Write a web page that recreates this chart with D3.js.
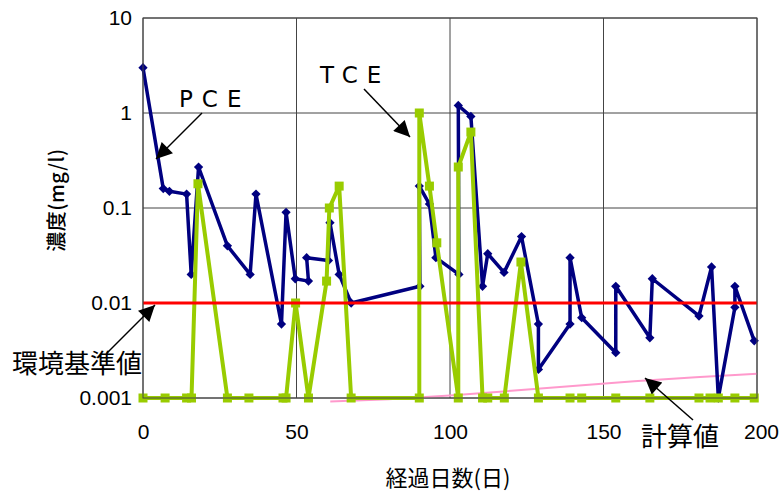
<!DOCTYPE html>
<html><head><meta charset="utf-8">
<script src="https://cdn.jsdelivr.net/npm/d3@7"></script>
<style>
html,body{margin:0;padding:0;background:#fff;}
svg{display:block;}
</style></head>
<body>
<svg id="c" width="779" height="493"></svg>
<script>
// ---- data ----
const xTicks = [0, 50, 100, 150, 200];
const yTicks = [0.001, 0.01, 0.1, 1, 10];
const yTickLabels = ["0.001", "0.01", "0.1", "1", "10"];

const pceDays   = [0, 6.6, 8.6, 14.2, 15.7, 18.1, 27.5, 34.9, 36.8, 45.1, 46.6, 49.6, 53.9, 53.3, 60.4, 60.9, 63.9, 67.8, 90.2, 90, 93.3, 95.4, 102.9, 102.7, 106.8, 110.6, 112.3, 117.6, 123.3, 128.8, 128.8, 139.1, 139.1, 142.9, 154, 154, 165.1, 165.9, 181.1, 185.2, 187.4, 192.8, 192.8, 199.1];
const pceValues = [3.0, 0.16, 0.15, 0.14, 0.02, 0.27, 0.04, 0.02, 0.14, 0.006, 0.09, 0.018, 0.017, 0.03, 0.028, 0.07, 0.02, 0.01, 0.015, 0.17, 0.11, 0.03, 0.02, 1.2, 0.92, 0.015, 0.033, 0.021, 0.05, 0.006, 0.002, 0.006, 0.03, 0.007, 0.003, 0.015, 0.0043, 0.018, 0.0073, 0.024, 0.001, 0.009, 0.015, 0.004];

const tceDays   = [0, 7.2, 14.2, 15.8, 17.9, 27.5, 34.5, 45.6, 46.6, 49.7, 53.9, 59.8, 60.7, 63.9, 67.8, 90, 90, 93.3, 95.7, 102.7, 102.7, 106.8, 110.6, 112.3, 117.7, 123.1, 128.8, 139.1, 142.9, 154, 165.1, 181.1, 184.7, 187.4, 192.8, 199.1];
const tceValues = [0.001, 0.001, 0.001, 0.001, 0.18, 0.001, 0.001, 0.001, 0.001, 0.01, 0.001, 0.017, 0.1, 0.17, 0.001, 0.001, 1.0, 0.17, 0.043, 0.001, 0.27, 0.63, 0.001, 0.001, 0.001, 0.027, 0.001, 0.001, 0.001, 0.001, 0.001, 0.001, 0.001, 0.001, 0.001, 0.001];

const stdDays   = [0, 200];
const stdValues = [0.01, 0.01];

const calcDays   = [61, 80, 100, 120, 140, 160, 180, 200];
const calcValues = [0.00092, 0.00097, 0.00106, 0.00119, 0.00134, 0.0015, 0.00165, 0.0018];

// ---- layout ----
const L = 143, R = 757, T = 18, B = 398;
const svg = d3.select("#c");
const x = d3.scaleLinear().domain([0, 200]).range([L, R]);
const y = d3.scaleLog().domain([0.001, 10]).range([B, T]);

const numFont = "'Liberation Sans', Arial, sans-serif";
const cjkFont = "'Noto Sans CJK JP', sans-serif";

// grid
const g = svg.append("g");
g.selectAll("line.h").data(yTicks).join("line")
  .attr("x1", L).attr("x2", R).attr("y1", d => y(d)).attr("y2", d => y(d))
  .attr("stroke", "#444").attr("stroke-width", 1);
g.selectAll("line.v").data(xTicks).join("line")
  .attr("y1", T).attr("y2", B).attr("x1", d => x(d)).attr("x2", d => x(d))
  .attr("stroke", "#444").attr("stroke-width", 1);

// axes (labels only)
const yAxis = d3.axisLeft(y).tickValues(yTicks).tickFormat((d, i) => yTickLabels[i]).tickSize(0).tickPadding(11);
const ya = svg.append("g").attr("transform", `translate(${L},0)`).call(yAxis);
ya.select(".domain").remove();
ya.selectAll("text").attr("font-family", numFont).attr("font-size", 21).attr("fill", "#000");

const xAxis = d3.axisBottom(x).tickValues(xTicks).tickFormat(d3.format("d")).tickSize(0).tickPadding(26);
const xa = svg.append("g").attr("transform", `translate(0,${B})`).call(xAxis);
xa.select(".domain").remove();
xa.selectAll("text").attr("font-family", numFont).attr("font-size", 21).attr("fill", "#000");
xa.selectAll(".tick").filter(d => d === 200).select("text").attr("dx", 4);

// series
const line = d3.line().x(d => x(d[0])).y(d => y(d[1]));
const zip = (a, b) => a.map((v, i) => [v, b[i]]);

const calc = zip(calcDays, calcValues);
svg.append("path").attr("d", line(calc)).attr("fill", "none").attr("stroke", "#FF99CC").attr("stroke-width", 2);

const pce = zip(pceDays, pceValues);
svg.append("path").attr("d", line(pce)).attr("fill", "none").attr("stroke", "#000080").attr("stroke-width", 3.5).attr("stroke-linejoin", "round");
svg.append("g").selectAll("path").data(pce).join("path")
  .attr("d", d3.symbol(d3.symbolDiamond2, 55))
  .attr("transform", d => `translate(${x(d[0])},${y(d[1])})`)
  .attr("fill", "#000080");

const tce = zip(tceDays, tceValues);
svg.append("path").attr("d", line(tce)).attr("fill", "none").attr("stroke", "#99CC00").attr("stroke-width", 4).attr("stroke-linejoin", "round");
svg.append("g").selectAll("rect").data(tce).join("rect")
  .attr("x", d => x(d[0]) - 4.5).attr("y", d => y(d[1]) - 4.5).attr("width", 9).attr("height", 9)
  .attr("fill", "#99CC00");

const std = zip(stdDays, stdValues);
svg.append("path").attr("d", line(std)).attr("fill", "none").attr("stroke", "#FF0000").attr("stroke-width", 3.2);

// plot border
svg.append("rect").attr("x", L).attr("y", T).attr("width", R - L).attr("height", B - T)
  .attr("fill", "none").attr("stroke", "#444").attr("stroke-width", 1);

// axis titles
svg.append("text").attr("x", 448).attr("y", 486).attr("text-anchor", "middle")
  .attr("font-family", cjkFont).attr("font-size", 22).text("経過日数(日)");
svg.append("text").attr("transform", "translate(64,200) rotate(-90)").attr("text-anchor", "middle")
  .attr("font-family", cjkFont).attr("font-size", 20).attr("font-weight", 500).attr("letter-spacing", 0.5).text("濃度(mg/l)");

// annotations
const defs = svg.append("defs");
defs.append("marker").attr("id", "ah").attr("viewBox", "0 0 10 10").attr("refX", 10).attr("refY", 5)
  .attr("markerWidth", 22).attr("markerHeight", 16).attr("markerUnits", "userSpaceOnUse").attr("orient", "auto")
  .append("path").attr("d", "M0,0 L10,5 L0,10 Z").attr("fill", "#000");

function arrow(x1, y1, x2, y2) {
  svg.append("line").attr("x1", x1).attr("y1", y1).attr("x2", x2).attr("y2", y2)
    .attr("stroke", "#000").attr("stroke-width", 1.5).attr("marker-end", "url(#ah)");
}
function label(tx, ty, s, size, spacing, font) {
  svg.append("text").attr("x", tx).attr("y", ty).attr("font-family", font).attr("font-size", size)
    .attr("letter-spacing", spacing).text(s);
}
label(179, 107, "PCE", 23, 9, "'DejaVu Sans', sans-serif");
arrow(202, 113, 156, 159);
label(320, 83, "TCE", 23, 9, "'DejaVu Sans', sans-serif");
arrow(364, 89, 410, 137);
label(12, 373, "環境基準値", 26, 0, cjkFont);
arrow(107, 353, 155, 305);
label(641, 446, "計算値", 26, 0, cjkFont);
arrow(693, 420, 645, 378);
</script>
</body></html>
